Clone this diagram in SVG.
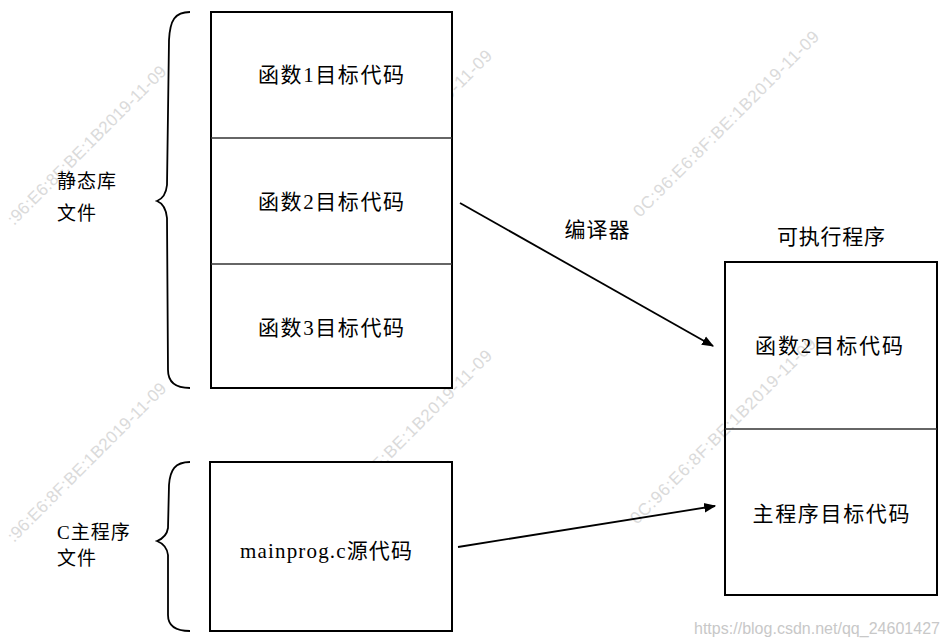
<svg xmlns="http://www.w3.org/2000/svg" width="949" height="643" viewBox="0 0 949 643">
<style>
.box{fill:#fff;stroke:#000;stroke-width:2}
.div{stroke:#333;stroke-width:1.6}
.t{font-family:"Liberation Serif","Noto Sans CJK SC",serif;font-size:21px;fill:#000;text-anchor:middle;dominant-baseline:central}
.l{font-family:"Liberation Serif","Noto Sans CJK SC",serif;font-size:19px;fill:#000;dominant-baseline:central;letter-spacing:1px}
.brace{fill:none;stroke:#000;stroke-width:1.8}
.conn{stroke:#000;stroke-width:1.8;fill:none;marker-end:url(#ah)}
.wm{font-family:"Liberation Sans",Arial,sans-serif;font-size:17px;fill:#dadada}
</style>
<defs>
<marker id="ah" viewBox="0 0 10 10" refX="9" refY="5" markerWidth="12" markerHeight="12" markerUnits="userSpaceOnUse" orient="auto">
<path d="M0,1 L10,5 L0,9 z" fill="#000"/>
</marker>
</defs>
<rect width="949" height="643" fill="#fff"/>
<g id="watermarks">
<text class="wm" transform="translate(14,226) rotate(-45)" textLength="217">:96:E6:8F:BE:1B2019-11-09</text>
<text class="wm" transform="translate(313,237) rotate(-45)" textLength="255">0C:96:E6:8F:BE:1B2019-11-09</text>
<text class="wm" transform="translate(640,218) rotate(-45)" textLength="255">0C:96:E6:8F:BE:1B2019-11-09</text>
<text class="wm" transform="translate(14,543) rotate(-45)" textLength="217">:96:E6:8F:BE:1B2019-11-09</text>
<text class="wm" transform="translate(313,537) rotate(-45)" textLength="255">0C:96:E6:8F:BE:1B2019-11-09</text>
</g>
<g id="static-lib">
<rect class="box" x="211" y="12" width="241" height="376"/>
<line class="div" x1="211" y1="138" x2="452" y2="138"/>
<line class="div" x1="211" y1="264" x2="452" y2="264"/>
<text class="t" x="331" y="75" textLength="146" lengthAdjust="spacing">函数1目标代码</text>
<text class="t" x="331" y="202" textLength="146" lengthAdjust="spacing">函数2目标代码</text>
<text class="t" x="331" y="328" textLength="146" lengthAdjust="spacing">函数3目标代码</text>
</g>
<g id="static-brace">
<path class="brace" d="M190,12 C175,12 170,20 169,40 L167,185 C166,195 162,199 157,201 C162,203 166,208 167,218 L168,370 C168,382 175,388 190,388"/>
<text class="l" x="57" y="181">静态库</text>
<text class="l" x="57" y="213">文件</text>
</g>
<g id="main-src">
<rect class="box" x="210" y="462" width="242" height="169"/>
<text class="t" x="326" y="551" textLength="172" lengthAdjust="spacing">mainprog.c源代码</text>
</g>
<g id="main-brace">
<path class="brace" d="M190,462 C175,462 170,470 169,485 L168,528 C167,535 162,539 157,541 C162,543 167,547 168,555 L168,615 C168,626 175,631 190,631"/>
<text class="l" x="57" y="532">C主程序</text>
<text class="l" x="57" y="558">文件</text>
</g>
<g id="watermarks-2">
<text class="wm" transform="translate(637,525) rotate(-45)" textLength="255">0C:96:E6:8F:BE:1B2019-11-09</text>
</g>
<g id="executable">
<text class="t" x="831" y="237" textLength="108" lengthAdjust="spacing">可执行程序</text>
<rect class="box" x="725" y="262" width="212" height="333" fill-opacity="0"/>
<line class="div" x1="725" y1="429" x2="937" y2="429"/>
<text class="t" x="829" y="346" textLength="148" lengthAdjust="spacing">函数2目标代码</text>
<text class="t" x="831" y="514" textLength="157" lengthAdjust="spacing">主程序目标代码</text>
</g>
<g id="connectors">
<line class="conn" x1="460" y1="203" x2="713" y2="346"/>
<text class="t" x="597" y="230" textLength="65" lengthAdjust="spacing">编译器</text>
<line class="conn" x1="458" y1="547" x2="715" y2="506"/>
</g>
<text x="940" y="628" font-family="'Liberation Sans',Arial,sans-serif" font-size="16" fill="#c8c8c8" text-anchor="end" dominant-baseline="central" textLength="246">https://blog.csdn.net/qq_24601427</text>
</svg>
